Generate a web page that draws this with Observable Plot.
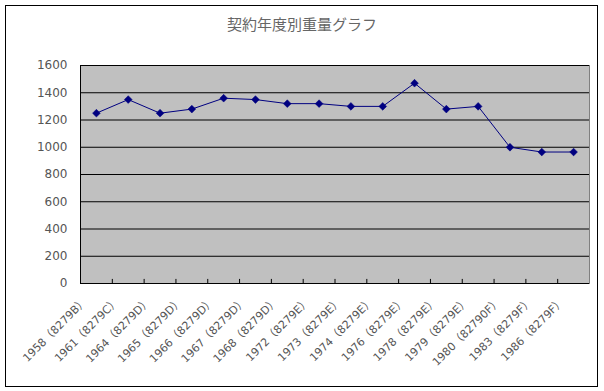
<!DOCTYPE html>
<html><head><meta charset="utf-8">
<script src="https://cdn.jsdelivr.net/npm/d3@7"></script>
<script src="https://cdn.jsdelivr.net/npm/@observablehq/plot@0.6"></script>
<style>
body{margin:0;background:#fff;}
#wrap{position:relative;width:604px;height:391px;overflow:hidden;}
#frame{position:absolute;left:5px;top:5px;width:593px;height:382px;border:1px solid #000;box-sizing:border-box;pointer-events:none;}
#title{position:absolute;left:0;top:13px;width:604px;text-align:center;font-size:15px;color:#666;font-family:"Noto Sans CJK JP",sans-serif;}
#chart{position:absolute;left:0;top:0;}
</style></head><body>
<div id="wrap"><div id="chart"></div><div id="title">契約年度別重量グラフ</div><div id="frame"></div></div>
<script>
const years = [1958, 1961, 1964, 1965, 1966, 1967, 1968, 1972, 1973, 1974, 1976, 1978, 1979, 1980, 1983, 1986];
const codes = ["8279B", "8279C", "8279D", "8279D", "8279D", "8279D", "8279D", "8279E", "8279E", "8279E", "8279E", "8279E", "8279E", "82790F", "8279F", "8279F"];
const weights = [1250, 1350, 1250, 1280, 1360, 1350, 1320, 1320, 1300, 1300, 1470, 1280, 1300, 1000, 965, 965];
const yTicks = [0, 200, 400, 600, 800, 1000, 1200, 1400, 1600];

const labels = years.map((y, i) => `${y}（${codes[i]}）`);
const data = labels.map((label, i) => ({i, label, weight: weights[i]}));
const n = labels.length;
const bounds = d3.range(1, n).map(i => i - 0.5);

const chart = Plot.plot({
  width: 604, height: 391,
  marginLeft: 80, marginRight: 15, marginTop: 65, marginBottom: 108,
  style: {fontFamily: '"DejaVu Sans","Noto Sans CJK JP",sans-serif', fontSize: "12px", color: "#555", background: "transparent"},
  x: {type: "linear", domain: [-0.5, n - 0.5], label: null},
  y: {domain: [0, 1600], label: null},
  marks: [
    Plot.frame({fill: "#c0c0c0", stroke: "#808080"}),
    Plot.ruleY(yTicks, {stroke: "#000", strokeWidth: 1}),
    Plot.ruleX(bounds, {y1: 0, y2: 30, stroke: "#000"}),
    Plot.ruleX([-0.5], {stroke: "#000"}),
    Plot.axisY({ticks: yTicks, tickSize: 0, tickPadding: 13, tickFormat: d => String(d), fill: "#555", fontSize: 12, label: null}),
    Plot.axisX({ticks: data.map(d => d.i), tickFormat: i => labels[i], tickRotate: -45, tickSize: 0, tickPadding: 16, dx: -11, fill: "#555", fontSize: 11, label: null}),
    Plot.line(data, {x: "i", y: "weight", stroke: "#000080", strokeWidth: 1}),
    Plot.dot(data, {x: "i", y: "weight", symbol: "diamond2", r: 3.5, fill: "#000080", stroke: "#000080", strokeWidth: 0.5})
  ]
});
document.getElementById("chart").appendChild(chart);
</script>
</body></html>
